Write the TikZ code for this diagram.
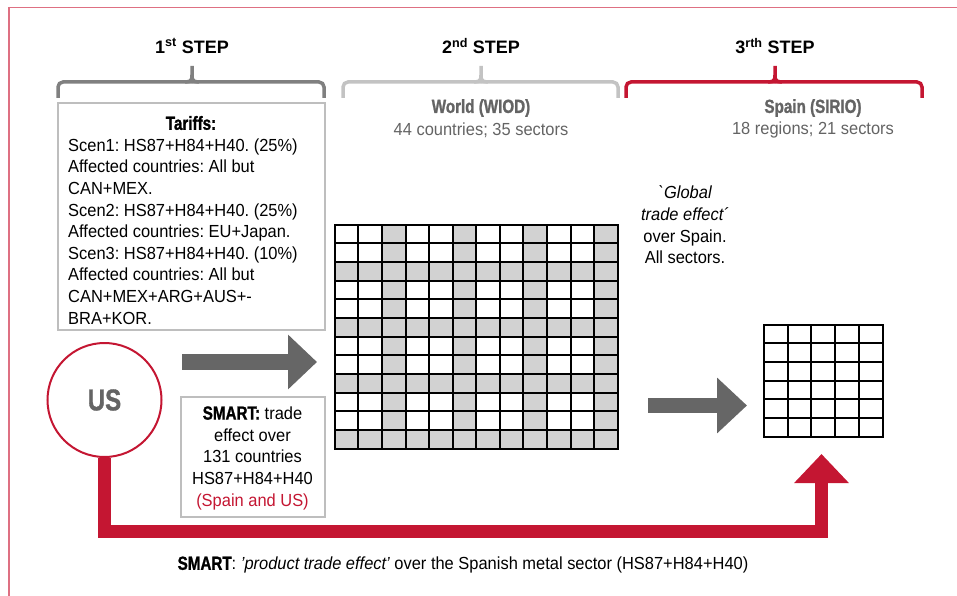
\documentclass[tikz,border=0pt]{standalone}
\usepackage{fontspec}
\setmainfont{Liberation Sans}[FakeStretch=0.94]
\newfontfamily\condb{Liberation Sans}[FakeStretch=0.8, BoldFeatures={FakeBold=1.2}]
\newfontfamily\stepf{Liberation Sans}
\usetikzlibrary{arrows.meta}
\definecolor{myred}{RGB}{196,22,50}
\definecolor{framered}{RGB}{222,112,130}
\definecolor{arrowgray}{RGB}{102,102,102}
\definecolor{bracedark}{RGB}{128,128,128}
\definecolor{bracelight}{RGB}{195,195,195}
\definecolor{boxgray}{RGB}{190,190,190}
\definecolor{cellgray}{RGB}{210,210,210}
\definecolor{textgray}{RGB}{100,100,100}
\newcommand\mybrace[4]{%
  \draw[bracepath,#4] (#1,98) -- (#1,82) -- (#3,82);
  \draw[bracepath,#4] (#2,98) -- (#2,82) -- (#3,82);
  \draw[#4, line width=3.5pt] (#3-7,82) .. controls (#3-1,82) and (#3,80) .. (#3,75) -- (#3,66);
  \draw[#4, line width=3.5pt] (#3+7,82) .. controls (#3+1,82) and (#3,80) .. (#3,75);
}
\frenchspacing
\begin{document}
\frenchspacing
\begin{tikzpicture}[x=1pt,y=-1pt,
  txt/.style={font=\fontsize{17.5}{21.6}\selectfont, inner sep=0, align=center},
  boldc/.style={font=\fontsize{19}{21.6}\selectfont\condb\bfseries, inner sep=0},
  steptitle/.style={font=\fontsize{18}{22}\selectfont\stepf\bfseries, inner sep=0},
  graybox/.style={draw=boxgray, line width=2pt, inner sep=0},
  bracepath/.style={line width=3.5pt, rounded corners=5pt},
  blockarrow/.style={arrowgray, line width=16pt, -{Triangle[length=29pt,width=53pt]}},
]
\useasboundingbox (0,0) rectangle (957,596);
% frame
\draw[framered, line width=1pt] (9,7.5) -- (957,7.5);
\draw[framered, line width=2pt] (9,7) -- (9,596);

% step titles
\node[steptitle] (s1) at (192,46) {1\textsuperscript{st} STEP};
\node[steptitle] (s2) at (481,46) {2\textsuperscript{nd} STEP};
\node[steptitle] (s3) at (775,46) {3\textsuperscript{rth} STEP};

% braces
\mybrace{58}{324}{192}{bracedark}
\mybrace{343}{618}{481}{bracelight}
\mybrace{626}{922}{775}{myred}

% model labels
\node[boldc, text=textgray] (wiod) at (481,108) {World (WIOD)};
\node[txt, text=textgray] (wiodsub) at (481,130) {44 countries; 35 sectors};
\node[boldc, text=textgray] (sirio) at (813,108) {Spain (SIRIO)};
\node[txt, text=textgray] (siriosub) at (813,130) {18 regions; 21 sectors};

% tariffs box
\node[graybox, minimum width=267pt, minimum height=227pt] (tariffs) at (191,216.5) {};
\node[boldc] (tarT) at (191,123) {Tariffs:};
\node[txt, align=left, anchor=north west] (tarL) at (68,138.5) {Scen1: HS87+H84+H40. (25\%)\\
Affected countries: All but\\
CAN+MEX.\\
Scen2: HS87+H84+H40. (25\%)\\
Affected countries: EU+Japan.\\
Scen3: HS87+H84+H40. (10\%)\\
Affected countries: All but\\
CAN+MEX+ARG+AUS+-\\
BRA+KOR.};

% US circle
\node[circle, draw=myred, line width=2pt, minimum size=114pt, inner sep=0,
  font=\fontsize{30}{30}\selectfont\condb\bfseries, text=textgray] (US) at (104.5,400) {US};

% SMART box
\node[graybox, minimum width=144pt, minimum height=120pt] (smart) at (252.5,457) {};
\node[txt] (smartT) at (252.5,458) {{\fontsize{19}{21.6}\selectfont\condb\bfseries SMART:} trade\\effect over\\131 countries\\HS87+H84+H40\\\textcolor{myred}{(Spain and US)}};

% world grid
\node[minimum width=283pt, minimum height=224pt, inner sep=0] (world) at (476.5,337) {};
\begin{scope}[shift={(world.north west)}]
  \foreach \i in {2,5,8,11} {
    \fill[cellgray] (\i*23.583,0) rectangle ++(23.583,224);
    \fill[cellgray] (0,\i*18.667) rectangle ++(283,18.667);
  }
  \foreach \i in {0,...,12} {
    \draw[line width=2pt] (\i*23.583,0) -- ++(0,224);
    \draw[line width=2pt] (0,\i*18.667) -- ++(283,0);
  }
\end{scope}
\draw[line width=2pt, line join=miter] (world.north west) rectangle (world.south east);

% spain grid
\node[minimum width=119pt, minimum height=112pt, inner sep=0] (spain) at (823.5,381) {};
\begin{scope}[shift={(spain.north west)}]
  \foreach \i in {0,...,5} \draw[line width=2pt] (\i*23.8,0) -- ++(0,112);
  \foreach \i in {0,...,6} \draw[line width=2pt] (0,\i*18.667) -- ++(119,0);
\end{scope}
\draw[line width=2pt] (spain.north west) rectangle (spain.south east);

% global text
\node[txt] (glob) at (685,225) {{\itshape \textasciigrave Global}\\{\itshape trade effect´}\\over Spain.\\All sectors.};

% gray arrows
\coordinate (a1s) at (182,362);
\coordinate (a1e) at (317,362);
\draw[blockarrow] (a1s) -- (a1e);
\coordinate (a2s) at (648,405.5);
\coordinate (a2e) at (747,405.5);
\draw[blockarrow, line width=15pt, -{Triangle[length=30pt,width=54pt]}] (a2s) -- (a2e);

% red L arrow
\coordinate (c1) at (104.5,531.5);
\coordinate (c2) at (821.5,531.5);
\coordinate (c3) at (821.5,454);
\draw[myred, line width=13pt, line join=miter, -{Triangle[length=29pt,width=53pt]}] (US.south) -- (c1) -- (c2) -- (c3);

% bottom text
\node[txt] (bottom) at (463,565) {{\fontsize{19}{21.6}\selectfont\condb\bfseries SMART}: {\itshape ’product trade effect’} over the Spanish metal sector (HS87+H84+H40)};
\end{tikzpicture}
\end{document}
